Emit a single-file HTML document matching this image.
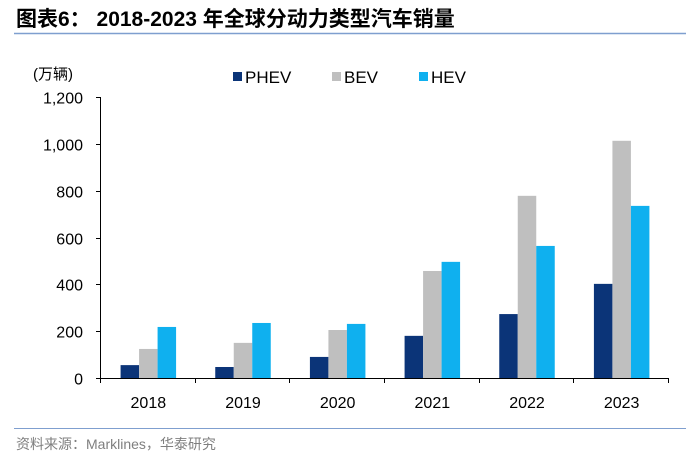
<!DOCTYPE html>
<html><head><meta charset="utf-8"><style>
body{margin:0;background:#fff;width:700px;height:465px;overflow:hidden;font-family:"Liberation Sans","Noto Sans CJK SC",sans-serif;}
</style></head><body>
<svg width="700" height="465" xmlns="http://www.w3.org/2000/svg">
<text x="16" y="26" font-size="21" font-weight="bold" fill="#000" font-family="Liberation Sans,Noto Sans CJK SC,sans-serif">图表6： 2018-2023 年全球分动力类型汽车销量</text>
<line x1="14" y1="33.5" x2="686" y2="33.5" stroke="#7f9fcf" stroke-width="1.5"/>
<text x="33" y="79" font-size="15" fill="#000">(万辆)</text>
<g id="legend"></g>
<g id="axes"></g>
<g id="bars"></g>
<line x1="14" y1="428.5" x2="686" y2="428.5" stroke="#7f9fcf" stroke-width="1"/>
<text x="16" y="449" font-size="14" fill="#7f7f7f">资料来源：Marklines，华泰研究</text>
</svg>
<script>
const categories=["2018","2019","2020","2021","2022","2023"];
const seriesNames=["PHEV","BEV","HEV"];
const phev=[55,47,90,180,273,402];
const bev=[124,150,205,457,778,1013];
const hev=[218,235,231,496,564,735];
const yTicks=[0,200,400,600,800,1000,1200];
const yTickLabels=["0","200","400","600","800","1,000","1,200"];
const colors=["#0b3478","#bfbfbf","#0fb0ef"];
const NS="http://www.w3.org/2000/svg";
const x0=100,x1=668,y0=378,yTop=97,yMax=1200;
const band=(x1-x0)/categories.length;
const yScale=v=>y0-(v/yMax)*(y0-yTop);
const xCenter=i=>x0+band*(i+0.5)+1;
function mk(tag,attrs,parent){const e=document.createElementNS(NS,tag);for(const k in attrs)e.setAttribute(k,attrs[k]);parent.appendChild(e);return e;}
const axes=document.getElementById('axes');
let l=mk('line',{x1:x0+.5,y1:yTop,x2:x0+.5,y2:y0,stroke:'#000','stroke-width':1},axes);


l=mk('line',{x1:x0,y1:y0+.5,x2:x1,y2:y0+.5,stroke:'#000','stroke-width':1},axes);


yTicks.forEach((v,i)=>{
  const y=Math.round(yScale(v))+.5;
  const t=mk('line',{x1:x0-4,y1:y,x2:x0,y2:y,stroke:'#000'},axes);
  
  
  const tx=mk('text',{x:83,y:y+6,'font-size':16,'text-anchor':'end',fill:'#000'},axes);
  tx.textContent=yTickLabels[i];
  
  
});
for(let i=0;i<=categories.length;i++){
  const x=Math.round(x0+band*i)+.5;
  const t=mk('line',{x1:x,y1:y0,x2:x,y2:y0+5,stroke:'#000'},axes);
  
  
}
categories.forEach((c,i)=>{
  const tx=mk('text',{x:xCenter(i),y:408,'font-size':16,'text-anchor':'middle',fill:'#000'},axes);
  tx.textContent=c;
  
  
});
const bars=document.getElementById('bars');
const series=[phev,bev,hev];
const bw=18.5;
series.forEach((s,si)=>{
  s.forEach((v,i)=>{
    const x=xCenter(i)-1.5*bw+si*bw;
    const r=mk('rect',{x:x,y:yScale(v),width:bw,height:y0-yScale(v),fill:colors[si]},bars);
    
    
  });
});
const leg=document.getElementById('legend');
const legX=[233,332,419];
seriesNames.forEach((n,i)=>{
  const r=mk('rect',{x:legX[i],y:72,width:9,height:9,fill:colors[i]},leg);
  
  
  const t=mk('text',{x:legX[i]+12,y:83,'font-size':17,fill:'#000'},leg);
  t.textContent=n;
  
  
});
</script>
</body></html>
